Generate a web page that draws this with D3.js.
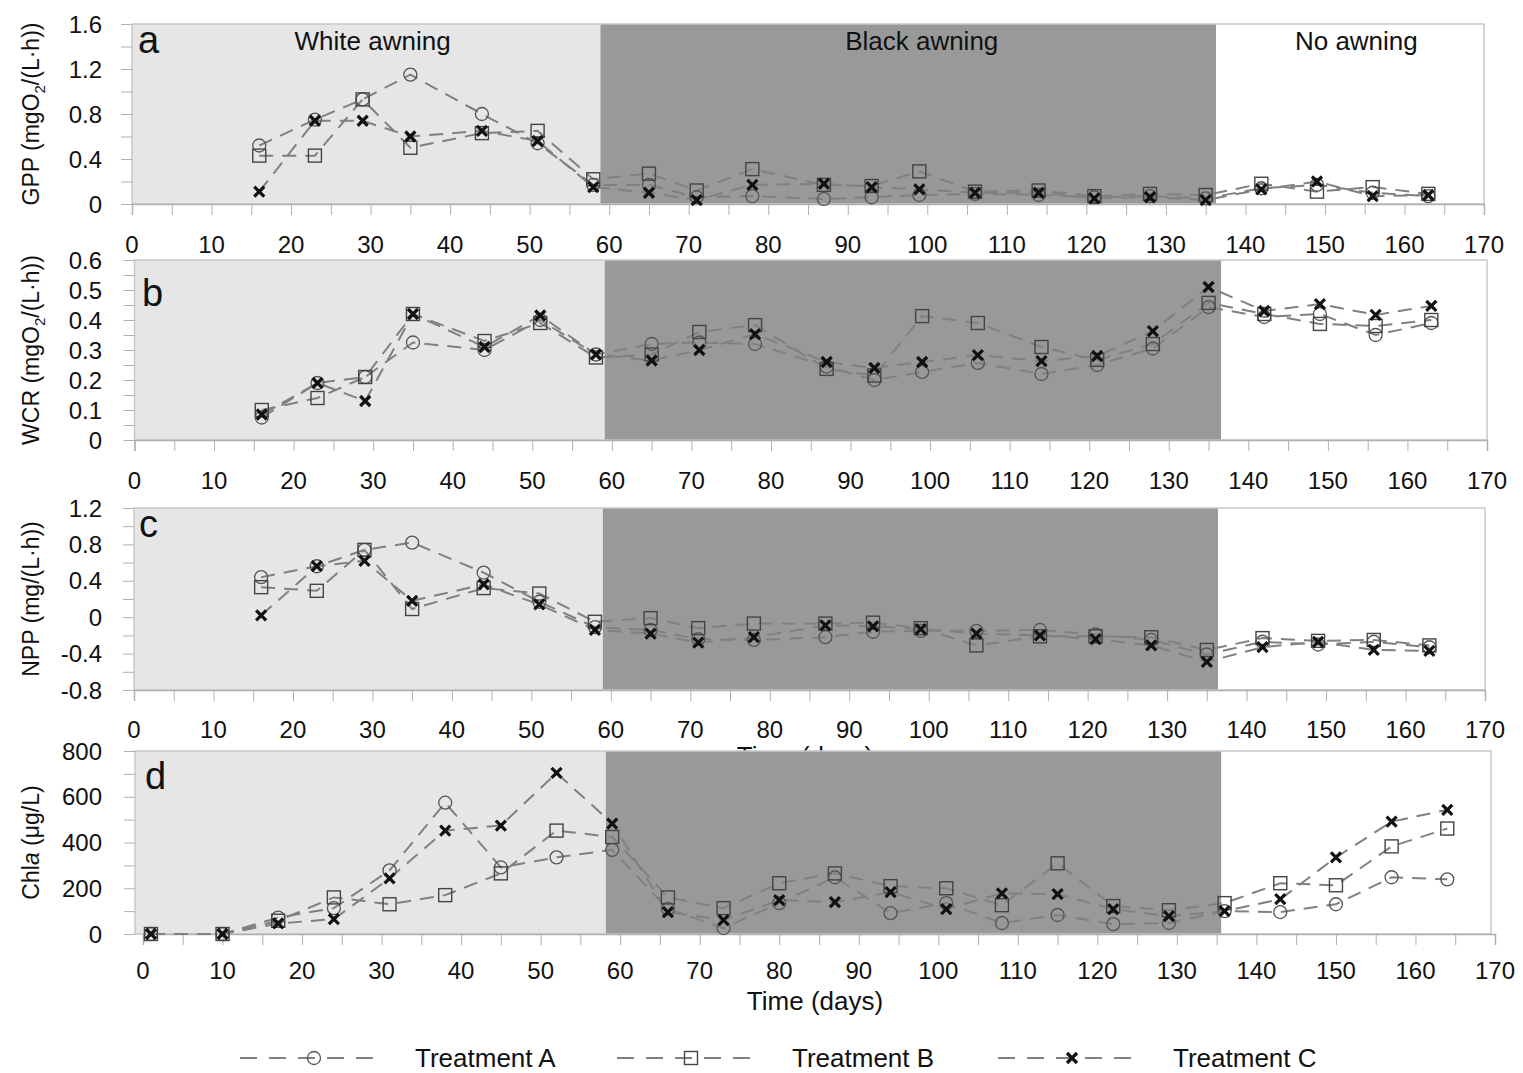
<!DOCTYPE html>
<html>
<head>
<meta charset="utf-8">
<script src="https://cdn.jsdelivr.net/npm/d3@7"></script>
<style>
  body { margin: 0; background: #fff; }
  text { font-family: "Liberation Sans", Arial, sans-serif; fill: #111; }
</style>
</head>
<body>
<div id="chart"></div>
<script>
// sampling days
let days = [16, 23, 29, 35, 44, 51, 58, 65, 71, 78, 87, 93, 99, 106, 114, 121, 128, 135, 142, 149, 156, 163];
let chlDays = [1, 10, 17, 24, 31, 38, 45, 52, 59, 66, 73, 80, 87, 94, 101, 108, 115, 122, 129, 136, 143, 150, 157, 164];

// GPP
let gppA = [0.52, 0.75, 0.93, 1.15, 0.80, 0.54, 0.17, 0.17, 0.06, 0.07, 0.045, 0.06, 0.08, 0.09, 0.08, 0.06, 0.07, 0.05, 0.14, 0.17, 0.10, 0.07];
let gppB = [0.43, 0.43, 0.93, 0.50, 0.63, 0.65, 0.22, 0.27, 0.12, 0.31, 0.17, 0.16, 0.29, 0.11, 0.12, 0.07, 0.09, 0.08, 0.18, 0.11, 0.15, 0.09];
let gppC = [0.11, 0.74, 0.74, 0.60, 0.65, 0.56, 0.15, 0.10, 0.035, 0.17, 0.18, 0.15, 0.13, 0.10, 0.10, 0.05, 0.06, 0.035, 0.13, 0.20, 0.07, 0.08];

// WCR
let wcrA = [0.075, 0.19, 0.21, 0.325, 0.30, 0.40, 0.285, 0.32, 0.325, 0.32, 0.245, 0.20, 0.227, 0.257, 0.22, 0.25, 0.305, 0.443, 0.41, 0.42, 0.35, 0.39];
let wcrB = [0.10, 0.14, 0.21, 0.42, 0.33, 0.39, 0.275, 0.285, 0.36, 0.383, 0.237, 0.215, 0.413, 0.39, 0.31, 0.267, 0.32, 0.457, 0.42, 0.387, 0.38, 0.40];
let wcrC = [0.085, 0.19, 0.13, 0.42, 0.31, 0.415, 0.285, 0.265, 0.30, 0.353, 0.26, 0.24, 0.26, 0.283, 0.263, 0.28, 0.363, 0.51, 0.43, 0.453, 0.417, 0.447];

// NPP
let nppA = [0.44, 0.56, 0.74, 0.82, 0.49, 0.17, -0.11, -0.14, -0.24, -0.25, -0.22, -0.16, -0.15, -0.15, -0.14, -0.19, -0.25, -0.41, -0.27, -0.30, -0.27, -0.33];
let nppB = [0.33, 0.29, 0.74, 0.09, 0.32, 0.26, -0.05, -0.01, -0.12, -0.07, -0.07, -0.06, -0.12, -0.31, -0.21, -0.21, -0.22, -0.36, -0.23, -0.26, -0.25, -0.31];
let nppC = [0.02, 0.56, 0.62, 0.18, 0.36, 0.14, -0.14, -0.18, -0.28, -0.22, -0.09, -0.10, -0.13, -0.18, -0.20, -0.24, -0.31, -0.49, -0.33, -0.27, -0.36, -0.37];

// Chla
let chlA = [0, 0, 72, 113, 278, 574, 291, 335, 368, 110, 26, 135, 248, 91, 135, 48, 83, 43, 48, 100, 96, 130, 248, 239];
let chlB = [0, 0, 58, 160, 130, 170, 265, 452, 424, 160, 113, 222, 265, 209, 200, 126, 309, 122, 104, 135, 222, 213, 383, 461];
let chlC = [0, 0, 46, 65, 243, 452, 474, 704, 483, 96, 61, 148, 139, 183, 109, 178, 174, 109, 78, 100, 152, 335, 491, 543];

// ticks
let xTicks = d3.range(0, 171, 10);
let xMinor = d3.range(0, 171, 5);
let gppTicks = [0, 0.4, 0.8, 1.2, 1.6];
let wcrTicks = [0, 0.1, 0.2, 0.3, 0.4, 0.5, 0.6];
let nppTicks = [-0.8, -0.4, 0, 0.4, 0.8, 1.2];
let chlTicks = [0, 200, 400, 600, 800];
let periods = ["White awning", "Black awning", "No awning"];
let treatments = ["Treatment A", "Treatment B", "Treatment C"];

let svg = d3.select("#chart").append("svg")
    .attr("width", 1523)
    .attr("height", 1073);

let panels = [
  {letter: "a", days: days, series: [gppA, gppB, gppC], ticks: gppTicks, minor: 0.2, dom: [0, 1.6],
   top: 24, bottom: 204, x0: 132, x170: 1484, left: 0, right: 170, light: 58.9, dark: 136.3,
   letterPos: [138, 53], title: ["GPP (mgO", "2", "/(L·h))"], labels: true, labelGap: 49},
  {letter: "b", days: days, series: [wcrA, wcrB, wcrC], ticks: wcrTicks, minor: 0.05, dom: [0, 0.6],
   top: 260, bottom: 440, x0: 134.5, x170: 1487, left: 0, right: 170, light: 59.1, dark: 136.6,
   letterPos: [142, 306], title: ["WCR (mgO", "2", "/(L·h))"], labelGap: 49},
  {letter: "c", days: days, series: [nppA, nppB, nppC], ticks: nppTicks, minor: 0.2, dom: [-0.8, 1.2],
   top: 508, bottom: 690, x0: 134, x170: 1485, left: 0, right: 170, light: 59.0, dark: 136.4,
   letterPos: [139, 537], title: ["NPP (mg/(L·h))"], hiddenTitle: true, labelGap: 48},
  {letter: "d", days: chlDays, series: [chlA, chlB, chlC], ticks: chlTicks, minor: 100, dom: [0, 800],
   top: 751, bottom: 934, x0: 143, x170: 1495, left: -1, right: 169.5, light: 58.2, dark: 135.6,
   letterPos: [145, 789], chl: true, xTitle: true, labelGap: 45}
];

function drawMarker(g, kind, x, y) {
  if (kind === 0) {
    g.append("circle").attr("cx", x).attr("cy", y).attr("r", 6.5)
      .attr("fill", "none").attr("stroke", "#555").attr("stroke-width", 1.3);
  } else if (kind === 1) {
    g.append("rect").attr("x", x - 6.5).attr("y", y - 6.5).attr("width", 13).attr("height", 13)
      .attr("fill", "none").attr("stroke", "#444").attr("stroke-width", 1.4);
  } else {
    let s = 5;
    g.append("path")
      .attr("d", `M${x - s},${y - s}L${x + s},${y + s}M${x - s},${y + s}L${x + s},${y - s}`)
      .attr("stroke", "#111").attr("stroke-width", 3.2).attr("fill", "none");
  }
}

panels.forEach(function(p) {
  let x = d3.scaleLinear().domain([0, 170]).range([p.x0, p.x170]);
  let y = d3.scaleLinear().domain(p.dom).range([p.bottom, p.top]);
  let g = svg.append("g");

  // x title of panel c, partly hidden by panel d
  if (p.hiddenTitle) {
    svg.append("text").attr("x", 805).attr("y", 765).attr("text-anchor", "middle")
      .style("font-size", "26px").text("Time (days)");
  }

  // background periods
  g.append("rect").attr("x", x(p.left)).attr("y", p.top)
    .attr("width", x(p.light) - x(p.left)).attr("height", p.bottom - p.top).attr("fill", "#e6e6e6");
  g.append("rect").attr("x", x(p.light)).attr("y", p.top)
    .attr("width", x(p.dark) - x(p.light)).attr("height", p.bottom - p.top).attr("fill", "#999999");
  g.append("rect").attr("x", x(p.dark)).attr("y", p.top)
    .attr("width", x(p.right) - x(p.dark)).attr("height", p.bottom - p.top).attr("fill", "#ffffff");
  g.append("rect").attr("x", x(p.left)).attr("y", p.top)
    .attr("width", x(p.right) - x(p.left)).attr("height", p.bottom - p.top)
    .attr("fill", "none").attr("stroke", "#c8c8c8").attr("stroke-width", 1.5);

  // x axis ticks
  let xAxis = g.append("g").attr("transform", `translate(0,${p.bottom})`)
    .call(d3.axisBottom(x).tickValues(xMinor).tickSize(11).tickFormat(""));
  xAxis.select(".domain").attr("stroke", "#b0b0b0").attr("stroke-width", 1.5);
  xAxis.selectAll(".tick line").attr("stroke", "#b0b0b0");
  g.append("g").selectAll("text").data(xTicks).enter().append("text")
    .attr("x", d => x(d)).attr("y", p.bottom + p.labelGap)
    .attr("text-anchor", "middle").style("font-size", "24px").text(d => d);

  // y axis ticks
  let minorTicks = d3.range(p.dom[0], p.dom[1] + p.minor / 2, p.minor);
  let yAxis = g.append("g").attr("transform", `translate(${x(p.left)},0)`)
    .call(d3.axisLeft(y).tickValues(minorTicks).tickSize(11).tickFormat(""));
  yAxis.select(".domain").remove();
  yAxis.selectAll(".tick line").attr("stroke", "#b0b0b0");
  g.append("g").selectAll("text").data(p.ticks).enter().append("text")
    .attr("x", 102).attr("y", d => y(d)).attr("dy", "0.36em")
    .attr("text-anchor", "end").style("font-size", "24px").text(d => d);

  // period labels
  if (p.labels) {
    let centers = [(p.left + p.light) / 2 + 0.8, (p.light + p.dark) / 2 + 1.7, (p.dark + p.right) / 2 + 0.8];
    g.selectAll(".period").data(periods).enter().append("text")
      .attr("x", (d, i) => x(centers[i])).attr("y", p.top + 26)
      .attr("text-anchor", "middle").style("font-size", "26px").text(d => d);
  }

  // panel letter
  g.append("text").attr("x", p.letterPos[0]).attr("y", p.letterPos[1])
    .style("font-size", "38px").text(p.letter);

  // y title
  let t = g.append("text")
    .attr("transform", `translate(39,${(p.top + p.bottom) / 2}) rotate(-90)`)
    .attr("text-anchor", "middle").style("font-size", "23px");
  if (p.chl) {
    t.append("tspan").text("Chl");
    t.append("tspan").style("font-style", "italic").text("a");
    t.append("tspan").text(" (μg/L)");
  } else {
    t.append("tspan").text(p.title[0]);
    if (p.title.length > 1) {
      t.append("tspan").attr("dy", 6).style("font-size", "15px").text(p.title[1]);
      t.append("tspan").attr("dy", -6).text(p.title[2]);
    }
  }

  // series
  let line = d3.line().x(d => x(d[0])).y(d => y(d[1]));
  p.series.forEach(function(s) {
    g.append("path").datum(p.days.map((d, i) => [d, s[i]]))
      .attr("d", line).attr("fill", "none")
      .attr("stroke", "#808080").attr("stroke-width", 2).attr("stroke-dasharray", "14,9");
  });
  p.series.forEach(function(s, k) {
    let mg = g.append("g");
    p.days.forEach((d, i) => drawMarker(mg, k, x(d), y(s[i])));
  });

  if (p.xTitle) {
    svg.append("text").attr("x", 815).attr("y", 1010).attr("text-anchor", "middle")
      .style("font-size", "26px").text("Time (days)");
  }
});

// legend
let legendX = [240, 617, 998];
let legend = svg.append("g");
treatments.forEach(function(name, i) {
  let lx = legendX[i];
  legend.append("line").attr("x1", lx).attr("x2", lx + 145).attr("y1", 1058).attr("y2", 1058)
    .attr("stroke", "#808080").attr("stroke-width", 2).attr("stroke-dasharray", "17,12");
  drawMarker(legend, i, lx + 74, 1058);
  legend.append("text").attr("x", lx + 175).attr("y", 1067)
    .style("font-size", "26px").text(name);
});
</script>
</body>
</html>
